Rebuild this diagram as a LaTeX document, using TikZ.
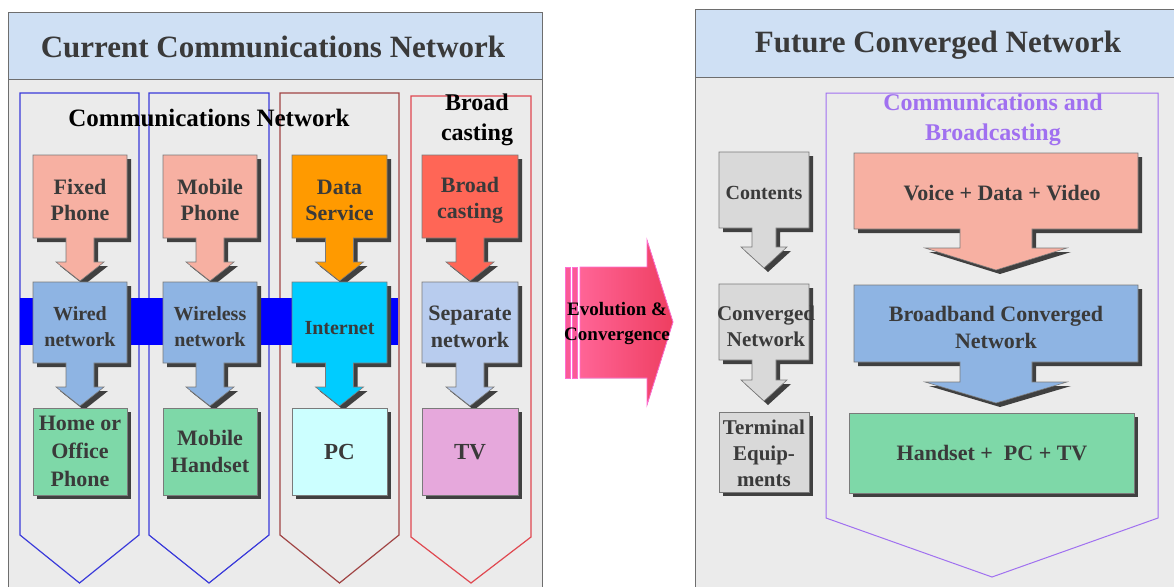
\documentclass[tikz,border=0pt]{standalone}
\usepackage{fontspec}
\setmainfont{Liberation Serif}
\definecolor{panelc}{HTML}{EBEBEB}
\definecolor{headc}{HTML}{CFE0F4}
\definecolor{framec}{HTML}{6E6E6E}
\definecolor{txtc}{HTML}{3A3A3A}
\definecolor{shadowc}{HTML}{404040}
\definecolor{edgec}{HTML}{7A7A7A}
\definecolor{salmonc}{HTML}{F7B0A2}
\definecolor{orangec}{HTML}{FF9A00}
\definecolor{redboxc}{HTML}{FF6656}
\definecolor{netc}{HTML}{8EB4E3}
\definecolor{cyanc}{HTML}{00CCFF}
\definecolor{sepc}{HTML}{B8CCEE}
\definecolor{greenc}{HTML}{7ED8A8}
\definecolor{pcc}{HTML}{CCFFFF}
\definecolor{tvc}{HTML}{E6A8DC}
\definecolor{grayc}{HTML}{D9D9D9}
\definecolor{bluecol}{HTML}{3A3ADA}
\definecolor{browncol}{HTML}{A04444}
\definecolor{redcol}{HTML}{E04850}
\definecolor{purplec}{HTML}{A070F0}
\definecolor{bandc}{HTML}{0000FF}
\definecolor{evoleft}{RGB}{255,100,150}
\definecolor{evoright}{RGB}{238,62,96}
\definecolor{evoedge}{RGB}{255,110,210}
\definecolor{evostripe}{RGB}{250,90,150}

% box with a downward arrow below it; \stemw and \headw set the arrow half-widths
% #1 fill, #2 x-left, #3 x-right, #4 top, #5 box bottom, #6 arrow head start, #7 arrow tip
\newcommand{\arrowbox}[7]{%
  \pgfmathsetmacro\cx{(#2+#3)/2}%
  \fill[shadowc,shift={(4,4)}] (#2,#4) -- (#3,#4) -- (#3,#5) -- (\cx+\stemw,#5) -- (\cx+\stemw,#6)
     -- (\cx+\headw,#6) -- (\cx,#7) -- (\cx-\headw,#6) -- (\cx-\stemw,#6) -- (\cx-\stemw,#5) -- (#2,#5) -- cycle;
  \filldraw[fill=#1,draw=edgec,line width=0.6pt] (#2,#4) -- (#3,#4) -- (#3,#5) -- (\cx+\stemw,#5) -- (\cx+\stemw,#6)
     -- (\cx+\headw,#6) -- (\cx,#7) -- (\cx-\headw,#6) -- (\cx-\stemw,#6) -- (\cx-\stemw,#5) -- (#2,#5) -- cycle;
}
% plain box with shadow: #1 fill, #2 x-left, #3 x-right, #4 top, #5 bottom
\newcommand{\plainbox}[5]{%
  \fill[shadowc] (#2+4,#4+4) rectangle (#3+4,#5+4);
  \filldraw[fill=#1,draw=edgec,line width=0.6pt] (#2,#4) rectangle (#3,#5);
}
% column outline ending in a chevron: #1 colour, #2 x-left, #3 x-right, #4 top, #5 side bottom, #6 tip
\newcommand{\chevcol}[6]{%
  \pgfmathsetmacro\cx{(#2+#3)/2}%
  \draw[#1,line width=1.2pt] (#2,#4) -- (#3,#4) -- (#3,#5) -- (\cx,#6) -- (#2,#5) -- cycle;
}

\tikzset{
  fs/.style 2 args={font=\bfseries\fontsize{#1}{#2}\selectfont},
  lbl/.style={text=txtc,align=center,inner sep=0pt},
}

\begin{document}
\begin{tikzpicture}[x=1pt,y=-1pt]
\useasboundingbox (0,0) rectangle (1174,586);
\fill[white] (0,0) rectangle (1174,586);

% ---------- left panel ----------
\filldraw[fill=panelc,draw=framec,line width=1pt] (8,13) rectangle (542,600);
\filldraw[fill=headc,draw=framec,line width=1pt] (8,13) rectangle (542,79);
\node[lbl,fs={31}{35},text=txtc] (lt) at (273,47) {Current Communications Network};

\chevcol{bluecol}{20}{139}{93}{535}{583}
\chevcol{bluecol}{149}{269}{93}{535}{583}
\chevcol{browncol}{280}{399}{93}{535}{583}
\chevcol{redcol}{411}{531}{96}{537}{583}

\fill[bandc] (20,298) rectangle (398,345);

\node[lbl,fs={25}{28},text=black] (cn) at (209,118) {Communications Network};
\node[lbl,fs={24}{30},text=black] (bch) at (477,120) {Broad\\casting};

\def\stemw{14}\def\headw{24}
\arrowbox{salmonc}{33}{127}{155}{238}{262}{281}
\arrowbox{salmonc}{163}{257}{155}{238}{262}{281}
\arrowbox{orangec}{292}{387}{155}{238}{262}{281}
\arrowbox{redboxc}{422}{518}{155}{238}{262}{281}

\arrowbox{netc}{33}{127}{282}{363}{387}{406}
\arrowbox{netc}{163}{257}{282}{363}{387}{406}
\arrowbox{cyanc}{292}{387}{282}{363}{387}{406}
\arrowbox{sepc}{422}{518}{282}{363}{387}{406}

\plainbox{greenc}{33}{127}{408}{495}
\plainbox{greenc}{163}{257}{408}{495}
\plainbox{pcc}{292}{387}{408}{495}
\plainbox{tvc}{422}{518}{408}{495}

\node[lbl,fs={22}{26}] (fixed) at (80,200) {Fixed\\Phone};
\node[lbl,fs={22}{26}] (mobile) at (210,200) {Mobile\\Phone};
\node[lbl,fs={22}{26}] (data) at (339.5,200) {Data\\Service};
\node[lbl,fs={22}{26}] (bcast) at (470,200) {Broad\\casting};

\node[lbl,fs={20}{26}] (wired) at (80,327) {Wired\\network};
\node[lbl,fs={20}{26}] (wireless) at (210,327) {Wireless\\network};
\node[lbl,fs={20}{26}] (inet) at (339.5,328) {Internet};
\node[lbl,fs={22}{27}] (sep) at (470,327) {Separate\\network};

\node[lbl,fs={22}{28}] (home) at (80,451) {Home or\\Office\\Phone};
\node[lbl,fs={22}{27}] (hand) at (210,451) {Mobile\\Handset};
\node[lbl,fs={23}{27}] (pc) at (339.5,452) {PC};
\node[lbl,fs={23}{27}] (tv) at (470,452) {TV};

% ---------- evolution arrow ----------
\fill[left color=evoleft,right color=evoright]
  (580,267) -- (647,267) -- (647,240) -- (673,322) -- (647,405) -- (647,378) -- (580,378) -- cycle;
\draw[evoedge,line width=0.8pt]
  (580,267) -- (647,267) -- (647,240) -- (673,322) -- (647,405) -- (647,378) -- (580,378) -- cycle;
\filldraw[fill=evostripe,draw=evoedge,line width=0.8pt] (565,267) rectangle (570,378);
\filldraw[fill=evostripe,draw=evoedge,line width=0.8pt] (572.5,267) rectangle (577.5,378);
\node[lbl,fs={19}{25},text=black] (evo) at (617,324) {Evolution \&\\Convergence};

% ---------- right panel ----------
\filldraw[fill=panelc,draw=framec,line width=1pt] (695,10) rectangle (1190,600);
\filldraw[fill=headc,draw=framec,line width=1pt] (695,10) rectangle (1190,77);
\node[lbl,fs={31}{35},text=txtc] (rt) at (938,45) {Future Converged Network};

\draw[purplec,line width=1pt] (826,93) -- (1158,93) -- (1158,518) -- (992,577) -- (826,518) -- cycle;
\node[lbl,fs={24}{30},text=purplec] (cb) at (993,120) {Communications and\\Broadcasting};

\def\stemw{12}\def\headw{23}
\arrowbox{grayc}{719}{809}{152}{228}{247}{268}
\arrowbox{grayc}{719}{809}{284}{360}{380}{401}
\plainbox{grayc}{719}{809}{412}{492}
\node[lbl,fs={20}{26}] (cont) at (764,193) {Contents};
\node[lbl,fs={21}{26}] (conv) at (766,326) {Converged\\Network};
\node[lbl,fs={21}{26}] (term) at (764,453) {Terminal\\Equip-\\ments};

\def\stemw{36}\def\headw{71}
\arrowbox{salmonc}{854}{1138}{153}{229}{248}{270}
\arrowbox{netc}{854}{1138}{285}{362}{382}{403}
\plainbox{greenc}{849}{1134}{413}{493}
\node[lbl,fs={22}{27}] (vdv) at (1002,193) {Voice + Data + Video};
\node[lbl,fs={22}{27}] (bbn) at (996,327) {Broadband Converged\\Network};
\node[lbl,fs={22}{27}] (hpt) at (992,453) {Handset +\ \ PC + TV};
\end{tikzpicture}
\end{document}
